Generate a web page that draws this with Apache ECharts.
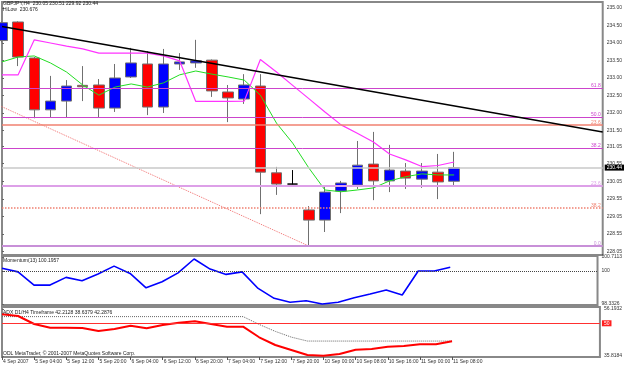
<!DOCTYPE html>
<html>
<head>
<meta charset="utf-8">
<script src="https://cdn.jsdelivr.net/npm/echarts@6/dist/echarts.min.js"></script>
<style>html,body{margin:0;padding:0;background:#fff}#main{width:625px;height:367px}</style>
</head>
<body>
<div id="main"></div>
<script>
// H4 bars: [open, close, low, high]
const candles = [
  [234.07, 234.58, 234.02, 234.62], [234.60, 233.60, 233.34, 234.62], [233.57, 232.09, 231.85, 233.60],
  [232.09, 232.34, 231.86, 233.06], [232.34, 232.77, 231.86, 232.94], [232.79, 232.75, 232.34, 233.34],
  [232.80, 232.14, 231.86, 232.97], [232.14, 233.00, 232.03, 233.40], [233.03, 233.43, 233.00, 233.86],
  [233.40, 232.17, 231.94, 233.77], [232.17, 233.40, 232.00, 233.83], [233.40, 233.46, 233.23, 233.71],
  [233.43, 233.49, 233.29, 234.09], [233.51, 232.63, 232.46, 233.53], [232.60, 232.43, 231.74, 232.80],
  [232.40, 232.80, 232.26, 233.11], [232.77, 230.31, 229.11, 233.11], [230.29, 229.97, 229.66, 230.46],
  [229.97, 229.97, 229.96, 230.37], [229.23, 228.94, 228.20, 229.34], [228.94, 229.74, 228.60, 229.89],
  [229.77, 230.00, 229.14, 230.06], [229.94, 230.51, 229.83, 231.20], [230.54, 230.06, 229.51, 231.46],
  [230.06, 230.37, 229.74, 231.09], [230.34, 230.14, 229.83, 230.57], [230.11, 230.34, 229.86, 230.57],
  [230.31, 230.03, 229.54, 230.83], [230.05, 230.44, 229.89, 230.89]
];
const maGreen = [233.46, 233.60, 233.63, 233.43, 233.17, 232.80, 232.51, 232.74, 232.83, 232.74, 232.86, 233.09,
  233.20, 233.11, 233.03, 232.94, 232.51, 231.71, 231.14, 230.43, 229.80, 229.75, 229.80, 229.86, 230.06, 230.18,
  230.26, 230.23, 230.23];
const hiLow = [233.09, 233.09, 234.09, 234.00, 233.91, 233.83, 233.71, 233.71, 233.71, 233.71, 233.63, 233.49,
  232.33, 232.33, 232.33, 232.34, 233.53, 233.17, 232.79, 232.41, 232.03, 231.66, 231.42, 231.17, 230.83, 230.66,
  230.47, 230.50, 230.60];
const momentum = [100.14, 99.96, 99.29, 99.29, 99.68, 99.51, 99.85, 100.25, 99.88, 99.15, 99.46, 99.91, 100.61,
  100.10, 99.83, 99.96, 99.12, 98.62, 98.42, 98.50, 98.33, 98.42, 98.65, 98.84, 99.04, 98.79, 100.0, 100.0, 100.1957];
const adx = [53.89, 53.16, 49.69, 48.09, 48.09, 47.96, 46.65, 47.52, 48.95, 47.83, 49.26, 50.25, 50.86, 49.69,
  48.52, 48.52, 43.93, 40.58, 38.42, 36.25, 35.95, 36.69, 38.55, 38.85, 39.85, 40.15, 40.89, 40.89, 42.21];
const adxD1 = [52.9, 52.9, 52.9, 52.9, 52.9, 52.9, 52.9, 52.9, 52.9, 52.9, 52.9, 52.9, 52.9, 52.9, 52.9, 52.9,
  49.5, 46.5, 44.0, 42.3, 42.29, 42.29, 42.29, 42.29, 42.29, 42.29, 42.29, 42.29, 42.29];
const trendLine = [[0, 234.47], [37.2, 231.46]];
const fibDiag = [[-0.2, 232.22], [19, 228.2]];
const fibLevels = [232.71, 231.87, 231.66, 230.99, 229.91, 229.29, 228.20];
const fibNames = ['61.8', '50.0', '23.6', '38.2', '23.6', '38.2', '0.0'];
const fibColors = ['#cc44cc', '#cc44cc', '#f08070', '#cc44cc', '#dda0e8', '#f08070', '#c890d8'];
const fibTypes = ['solid', 'solid', 'solid', 'solid', 'solid', 'dotted', 'solid'];
const fibWidths = [1, 1, 1.5, 1, 2, 1.5, 2];
const bid = 230.44;
const priceTicks = [235, 234.5, 234, 233.5, 233, 232.5, 232, 231.5, 231.05, 230.55, 230.05, 229.55, 229.05, 228.55, 228.05];
const momTicks = [100.7113, 100, 98.3326];
const adxTicks = [56.1932, 35.8184];
const dateLabels = ['4 Sep 2007', '5 Sep 04:00', '5 Sep 12:00', '5 Sep 20:00', '6 Sep 04:00', '6 Sep 12:00',
  '6 Sep 20:00', '7 Sep 04:00', '7 Sep 12:00', '7 Sep 20:00', '10 Sep 00:00', '10 Sep 08:00', '10 Sep 16:00',
  '11 Sep 00:00', '11 Sep 08:00'];

const FONT = 'Liberation Sans';
const idx = (arr) => arr.map((v, i) => [i, v]);
const small = { fontSize: 5, fontFamily: FONT, color: '#222', fontWeight: 'normal' };

const xBase = (gi, showLabels) => ({
  type: 'value', gridIndex: gi, min: 0, max: 37.2,
  axisLine: { show: false },
  splitLine: { show: false },
  axisTick: showLabels ? { show: true, length: 3, inside: false, customValues: dateLabels.map((d, i) => i * 2), lineStyle: { color: '#555' } } : { show: false },
  axisLabel: showLabels ? {
    show: true, customValues: dateLabels.map((d, i) => i * 2), align: 'left', margin: 2,
    fontSize: 5, fontFamily: FONT, color: '#333', padding: [0, 0, 0, 1],
    formatter: v => dateLabels[Math.round(v / 2)] || ''
  } : { show: false }
});

const yBase = (gi, min, max, ticks, fmt) => ({
  type: 'value', gridIndex: gi, position: 'right', min: min, max: max, scale: true,
  axisLine: { show: true, lineStyle: { color: '#888', width: 1.5 } },
  splitLine: { show: false },
  axisTick: { show: true, length: 2, customValues: ticks, lineStyle: { color: '#666' } },
  axisLabel: { show: true, customValues: ticks, margin: 4, fontSize: 5, fontFamily: FONT, color: '#333', formatter: fmt }
});

const chart = echarts.init(document.getElementById('main'));
chart.setOption({
  animation: false,
  backgroundColor: '#fff',
  title: [
    { text: 'GBPJPY,H4  230.05 230.51 229.92 230.44', left: 3, top: 1, padding: 0, textStyle: small },
    { text: 'HiLow  230.676', left: 3, top: 7, padding: 0, textStyle: small },
    { text: 'Momentum(13) 100.1957', left: 3, top: 258, padding: 0, textStyle: small },
    { text: 'ADX D1/H4 Timeframe 42.2128 38.6379 42.2876', left: 3, top: 310, padding: 0, textStyle: small },
    { text: 'ODL MetaTrader, \u00a9 2001-2007 MetaQuotes Software Corp.', left: 3, top: 351, padding: 0, textStyle: small }
  ],
  grid: [
    { left: 2, right: 20, top: 2, height: 253, show: true, borderColor: '#888', borderWidth: 2, backgroundColor: '#fff' },
    { left: 2, right: 20, top: 256, height: 49, show: true, borderColor: '#888', borderWidth: 2 },
    { left: 2, right: 20, top: 307, height: 50, show: true, borderColor: '#888', borderWidth: 2 }
  ],
  xAxis: [xBase(0, false), xBase(1, false), xBase(2, true)],
  yAxis: [
    yBase(0, 227.943, 235.171, priceTicks, v => v.toFixed(2)),
    yBase(1, 98.282, 100.762, momTicks, v => String(v)),
    yBase(2, 35.385, 57.06, adxTicks, v => String(v))
  ],
  series: [
    {
      type: 'candlestick', xAxisIndex: 0, yAxisIndex: 0, barWidth: 11,
      encode: { x: 0, y: [1, 2, 3, 4] },
      data: candles.map((c, i) => [i, c[0], c[1], c[2], c[3]]),
      itemStyle: { color: '#0000ff', color0: '#ff0000', borderColor: '#707070', borderColor0: '#707070', borderColorDoji: '#000', borderWidth: 1 },
      markLine: {
        symbol: 'none', silent: true, animation: false,
        data: fibLevels.map((v, i) => ({
          yAxis: v,
          lineStyle: { color: fibColors[i], type: fibTypes[i], width: fibWidths[i] },
          label: { show: true, position: 'insideEndTop', distance: [2, 0], formatter: fibNames[i], color: fibColors[i], fontSize: 5, fontFamily: FONT }
        })).concat([{
          yAxis: bid,
          lineStyle: { color: '#c8c8c8', type: 'solid', width: 1.5 },
          label: { show: true, position: 'end', distance: 2, formatter: bid.toFixed(2), color: '#fff', backgroundColor: '#000', padding: [1, 2, 0, 2], fontSize: 5, fontFamily: FONT }
        }])
      },
      z: 3
    },
    { type: 'line', xAxisIndex: 0, yAxisIndex: 0, data: idx(maGreen), symbol: 'none', lineStyle: { color: '#22dd22', width: 1 }, z: 4 },
    { type: 'line', xAxisIndex: 0, yAxisIndex: 0, data: idx(hiLow), symbol: 'none', lineStyle: { color: '#ff33ff', width: 1.2 }, z: 4 },
    { type: 'line', xAxisIndex: 0, yAxisIndex: 0, data: trendLine, symbol: 'none', lineStyle: { color: '#000', width: 1.5 }, z: 5 },
    { type: 'line', xAxisIndex: 0, yAxisIndex: 0, data: fibDiag, symbol: 'none', lineStyle: { color: '#f07070', width: 1, type: 'dotted' }, z: 2 },
    {
      type: 'line', xAxisIndex: 1, yAxisIndex: 1, data: idx(momentum), symbol: 'none', lineStyle: { color: '#0000ff', width: 1.6 },
      markLine: { symbol: 'none', silent: true, label: { show: false }, data: [{ yAxis: 100, lineStyle: { color: '#444', type: 'dotted', width: 1 } }] }
    },
    { type: 'line', xAxisIndex: 2, yAxisIndex: 2, data: idx(adxD1), symbol: 'none', lineStyle: { color: '#666', width: 1, type: 'dotted' } },
    {
      type: 'line', xAxisIndex: 2, yAxisIndex: 2, data: idx(adx), symbol: 'none', lineStyle: { color: '#ff0000', width: 2 },
      markLine: {
        symbol: 'none', silent: true,
        data: [{
          yAxis: 50, lineStyle: { color: '#ff3030', type: 'solid', width: 1 },
          label: { show: true, position: 'end', distance: 2, formatter: '50', color: '#fff', backgroundColor: '#ff2020', padding: [1, 2, 0, 2], fontSize: 5, fontFamily: FONT }
        }]
      }
    }
  ]
});
</script>
</body>
</html>
